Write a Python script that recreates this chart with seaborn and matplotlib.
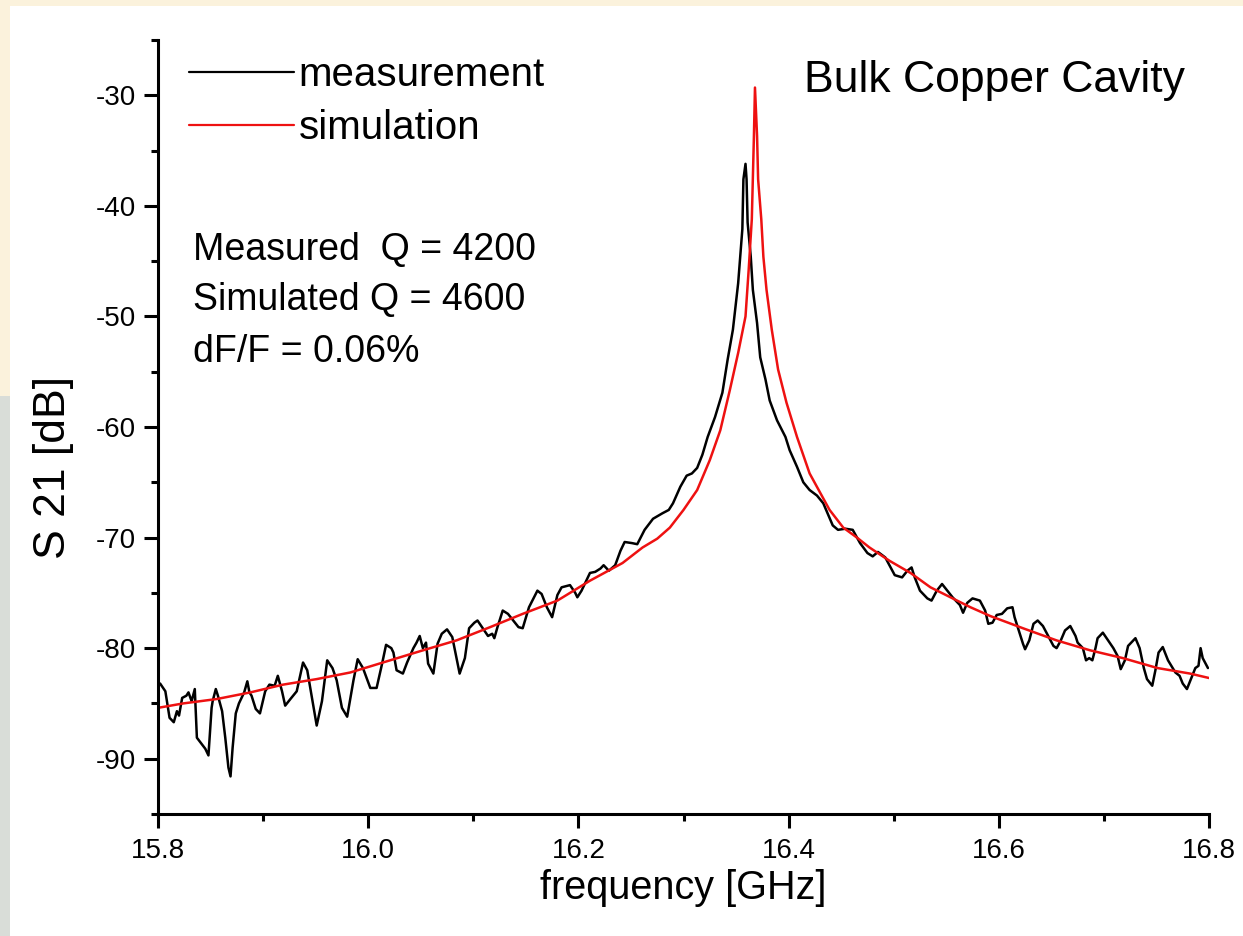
import numpy as np
import pandas as pd
import matplotlib
matplotlib.use("Agg")
import matplotlib.pyplot as plt
from matplotlib.patches import Rectangle
from matplotlib.ticker import MultipleLocator
import seaborn as sns

# ---------------- data ----------------
meas_freq = [15.802, 15.807, 15.811, 15.815, 15.818, 15.820, 15.823, 15.827, 15.829, 15.832,
             15.835, 15.837, 15.841, 15.845, 15.848, 15.851, 15.852, 15.855, 15.857, 15.861,
             15.864, 15.867, 15.869, 15.871, 15.874, 15.877, 15.882, 15.885, 15.887, 15.889,
             15.893, 15.897, 15.902, 15.906, 15.911, 15.914, 15.918, 15.921, 15.926, 15.932,
             15.938, 15.942, 15.947, 15.951, 15.956, 15.961, 15.966, 15.970, 15.975, 15.980,
             15.986, 15.990, 15.995, 16.002, 16.008, 16.013, 16.017, 16.022, 16.024, 16.027,
             16.033, 16.037, 16.043, 16.046, 16.049, 16.052, 16.055, 16.057, 16.062, 16.066,
             16.070, 16.075, 16.080, 16.084, 16.087, 16.092, 16.096, 16.101, 16.104, 16.109,
             16.114, 16.118, 16.120, 16.123, 16.128, 16.133, 16.138, 16.143, 16.147, 16.153,
             16.161, 16.165, 16.170, 16.175, 16.180, 16.184, 16.192, 16.197, 16.199, 16.203,
             16.211, 16.216, 16.221, 16.224, 16.229, 16.235, 16.240, 16.244, 16.251, 16.256,
             16.263, 16.271, 16.280, 16.286, 16.290, 16.297, 16.303, 16.308, 16.313, 16.318,
             16.323, 16.330, 16.337, 16.342, 16.347, 16.352, 16.356, 16.357, 16.359, 16.360,
             16.361, 16.364, 16.366, 16.370, 16.373, 16.378, 16.382, 16.389, 16.397, 16.401,
             16.408, 16.414, 16.420, 16.427, 16.433, 16.438, 16.442, 16.447, 16.454, 16.461,
             16.468, 16.475, 16.480, 16.485, 16.492, 16.497, 16.501, 16.508, 16.513, 16.517,
             16.520, 16.525, 16.532, 16.536, 16.541, 16.546, 16.551, 16.556, 16.563, 16.566,
             16.570, 16.575, 16.582, 16.587, 16.590, 16.594, 16.598, 16.603, 16.608, 16.613,
             16.615, 16.619, 16.623, 16.625, 16.629, 16.633, 16.637, 16.642, 16.647, 16.652,
             16.655, 16.659, 16.663, 16.668, 16.673, 16.675, 16.680, 16.683, 16.686, 16.689,
             16.692, 16.694, 16.699, 16.704, 16.709, 16.713, 16.716, 16.720, 16.723, 16.730,
             16.734, 16.738, 16.741, 16.746, 16.749, 16.752, 16.756, 16.761, 16.768, 16.772,
             16.775, 16.779, 16.784, 16.787, 16.790, 16.792, 16.794, 16.799]
meas_s21 = [-83.2, -83.9, -86.3, -86.7, -85.7, -86.1, -84.5, -84.3, -84.0, -84.8,
            -83.7, -88.1, -88.6, -89.1, -89.7, -85.4, -84.8, -83.7, -84.3, -85.7,
            -88.1, -90.8, -91.6, -89.0, -85.9, -85.0, -84.0, -83.0, -84.0, -84.3,
            -85.5, -85.9, -83.9, -83.3, -83.4, -82.5, -83.9, -85.2, -84.6, -83.9,
            -81.3, -82.0, -84.8, -87.0, -84.8, -81.1, -81.8, -82.9, -85.4, -86.2,
            -82.9, -81.0, -81.8, -83.6, -83.6, -81.5, -79.7, -80.0, -80.4, -82.0,
            -82.3, -81.3, -80.0, -79.5, -78.9, -80.0, -79.5, -81.4, -82.3, -79.6,
            -78.7, -78.3, -79.0, -80.9, -82.3, -80.9, -78.2, -77.7, -77.5, -78.2,
            -78.9, -78.7, -79.1, -78.1, -76.6, -76.9, -77.5, -78.1, -78.2, -76.3,
            -74.8, -75.1, -76.3, -77.2, -75.2, -74.5, -74.3, -75.0, -75.4, -74.8,
            -73.2, -73.1, -72.8, -72.5, -73.0, -72.5, -71.2, -70.4, -70.5, -70.6,
            -69.3, -68.3, -67.8, -67.5, -66.9, -65.4, -64.4, -64.2, -63.7, -62.5,
            -60.9, -59.1, -56.9, -53.9, -51.2, -47.0, -42.1, -37.6, -36.2, -37.6,
            -41.5, -44.6, -47.6, -50.6, -53.7, -55.7, -57.6, -59.4, -60.9, -62.1,
            -63.6, -65.0, -65.7, -66.2, -66.9, -68.0, -68.9, -69.3, -69.2, -69.3,
            -70.5, -71.4, -71.7, -71.3, -71.8, -72.7, -73.4, -73.6, -73.0, -72.7,
            -73.6, -74.8, -75.5, -75.7, -74.8, -74.2, -74.8, -75.4, -76.1, -76.8,
            -75.9, -75.5, -75.7, -76.6, -77.8, -77.7, -77.0, -76.9, -76.4, -76.3,
            -77.2, -78.4, -79.6, -80.1, -79.3, -77.8, -77.5, -78.0, -78.9, -79.8,
            -80.0, -79.3, -78.4, -78.0, -78.9, -79.5, -80.0, -81.1, -80.9, -81.1,
            -80.0, -79.1, -78.6, -79.3, -80.0, -80.7, -81.9, -81.1, -79.8, -79.1,
            -80.0, -81.8, -82.8, -83.4, -82.0, -80.4, -79.9, -81.1, -82.2, -82.5,
            -83.2, -83.7, -82.5, -81.8, -81.6, -80.0, -80.9, -81.8]

sim_freq = [15.800, 15.824, 15.856, 15.888, 15.919, 15.951, 15.983, 16.014, 16.052, 16.084,
            16.116, 16.147, 16.180, 16.211, 16.242, 16.261, 16.275, 16.287, 16.300, 16.313,
            16.325, 16.335, 16.344, 16.352, 16.359, 16.362, 16.365, 16.367, 16.368, 16.370,
            16.371, 16.374, 16.376, 16.379, 16.384, 16.390, 16.398, 16.408, 16.420, 16.439,
            16.452, 16.465, 16.477, 16.496, 16.516, 16.535, 16.554, 16.573, 16.592, 16.623,
            16.655, 16.687, 16.718, 16.751, 16.782, 16.800]
sim_s21 = [-85.4, -85.0, -84.6, -84.0, -83.3, -82.8, -82.2, -81.3, -80.2, -79.3,
           -78.1, -76.9, -75.7, -73.9, -72.3, -70.9, -70.1, -69.1, -67.5, -65.7,
           -63.0, -60.3, -56.7, -53.3, -50.0, -45.8, -41.2, -33.7, -29.3, -33.7,
           -37.6, -41.2, -44.6, -47.6, -51.2, -54.8, -57.8, -60.9, -64.2, -67.5,
           -69.1, -70.0, -70.9, -72.1, -73.2, -74.5, -75.4, -76.3, -77.1, -78.2,
           -79.3, -80.2, -80.9, -81.8, -82.3, -82.7]

series_labels = ["measurement", "simulation"]
annotation_lines = ["Measured  Q = 4200", "Simulated Q = 4600", "dF/F = 0.06%"]
title_text = "Bulk Copper Cavity"
x_label = "frequency [GHz]"
y_label = "S 21 [dB]"
x_ticks = [15.8, 16.0, 16.2, 16.4, 16.6, 16.8]
y_ticks = [-90, -80, -70, -60, -50, -40, -30]

# ---------------- styling ----------------
sns.set_theme(style="ticks")
plt.rcParams["font.family"] = ["Liberation Sans", "DejaVu Sans"]
plt.rcParams["text.color"] = "black"
plt.rcParams["axes.labelcolor"] = "black"

W, H = 1243, 936
fig = plt.figure(figsize=(W / 100, H / 100), dpi=100)
fig.patch.set_facecolor("#fbf2dc")
# lower-left greyish strip of the background picture
fig.patches.append(Rectangle((0, 0), 10 / W, 540 / H, transform=fig.transFigure,
                             facecolor="#d9ddd8", edgecolor="none", zorder=-20))
# white slide area
fig.patches.append(Rectangle((10 / W, 0), 1 - 10 / W, 1 - 6 / H, transform=fig.transFigure,
                             facecolor="white", edgecolor="none", zorder=-20))

ax = fig.add_axes([158 / W, (H - 814) / H, (1209 - 158) / W, (814 - 40) / H])
ax.set_zorder(5)
ax.set_facecolor("none")
ax.patch.set_alpha(0)

meas_df = pd.DataFrame({"freq": meas_freq, "s21": meas_s21})
sim_df = pd.DataFrame({"freq": sim_freq, "s21": sim_s21})

sns.lineplot(data=meas_df, x="freq", y="s21", ax=ax, color="black", lw=1.8,
             estimator=None, sort=False, label=series_labels[0])
sns.lineplot(data=sim_df, x="freq", y="s21", ax=ax, color="#ee1111", lw=1.8,
             estimator=None, sort=False, label=series_labels[1])

ax.set_xlim(15.8, 16.8)
ax.set_ylim(-95, -25)
ax.set_xticks(x_ticks)
ax.set_xticklabels([f"{v:.1f}" for v in x_ticks])
ax.set_yticks(y_ticks)
ax.set_yticklabels([f"{v:d}" for v in y_ticks])
ax.xaxis.set_minor_locator(MultipleLocator(0.1))
ax.yaxis.set_minor_locator(MultipleLocator(5))

for side in ["top", "right"]:
    ax.spines[side].set_visible(False)
for side in ["left", "bottom"]:
    ax.spines[side].set_linewidth(2.2)
    ax.spines[side].set_color("black")

ax.tick_params(which="major", direction="out", length=10, width=2.2, labelsize=20,
               colors="black", pad=6)
ax.tick_params(which="minor", direction="out", length=5, width=2.2, colors="black")
ax.tick_params(axis="x", which="major", pad=7)

ax.set_xlabel(x_label, fontsize=28.5, labelpad=4, color="black")
ax.set_ylabel(y_label, fontsize=32, color="black")
ax.yaxis.set_label_coords(-0.080, 0.448)

leg = ax.legend(loc="upper left", bbox_to_anchor=(0.014, 1.0), frameon=False,
                fontsize=29, handlelength=2.6, handletextpad=0.12, labelspacing=0.36,
                borderaxespad=0)
for line in leg.get_lines():
    line.set_linewidth(1.6)
for t in leg.get_texts():
    t.set_color("black")

ax.text(0.977, 0.948, title_text, transform=ax.transAxes, ha="right", va="center",
        fontsize=32, color="black")
for txt, yy in zip(annotation_lines, [0.729, 0.664, 0.597]):
    ax.text(0.033, yy, txt, transform=ax.transAxes, ha="left", va="center",
            fontsize=27, color="black")

fig.savefig("out.png", dpi=100, facecolor=fig.get_facecolor())
